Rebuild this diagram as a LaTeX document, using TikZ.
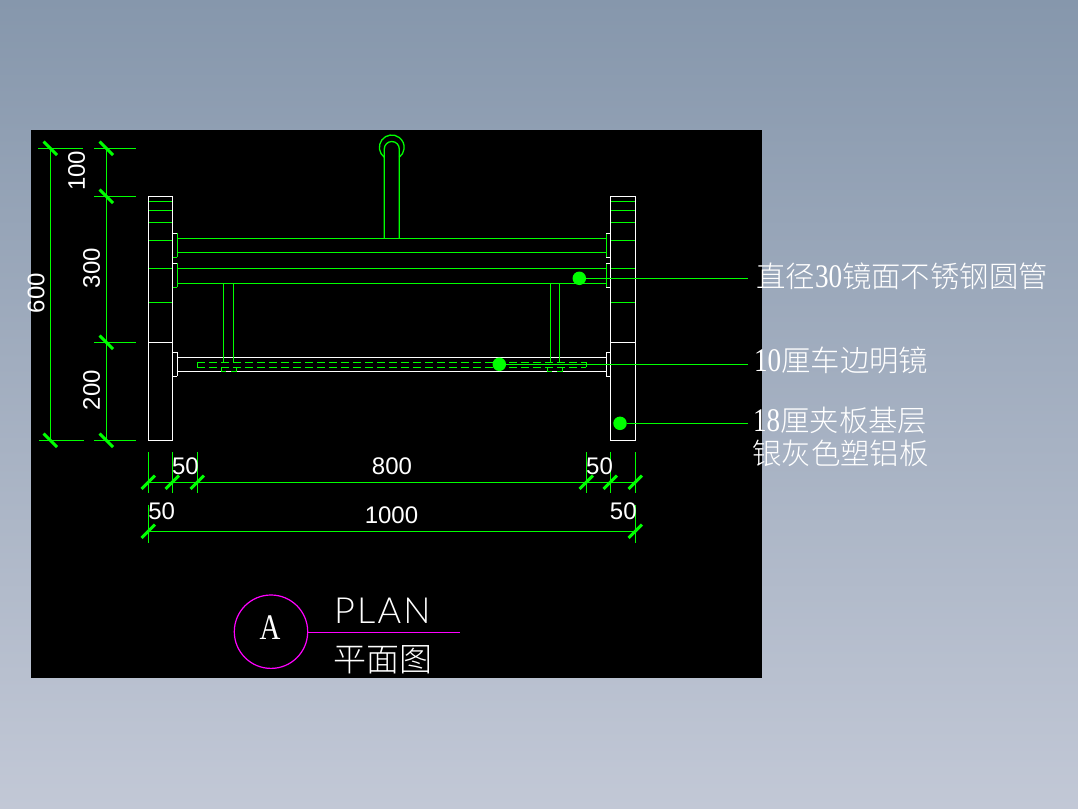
\documentclass[tikz,border=0pt]{standalone}
\usepackage{fontspec}
\setmainfont{Liberation Sans}
\newfontfamily\cjk{Noto Sans CJK SC Light}
\newfontfamily\dg[FakeStretch=0.82]{Liberation Serif}
\newfontfamily\ser{Liberation Serif}
\newfontfamily\dimf{Liberation Sans}
\newfontfamily\thinf[LetterSpace=6]{Lato Light}
\newcommand{\ldg}[1]{{\dg\fontsize{33}{33}\selectfont #1}}
\definecolor{gr}{RGB}{0,255,0}
\definecolor{mg}{RGB}{255,0,255}
\tikzset{
  gl/.style={draw=gr,line width=1.3pt},
  wl/.style={draw=white,line width=1.3pt},
  tickmark/.style={draw=gr,line width=3pt},
  dash2/.style={draw=gr,line width=1.2pt,dash pattern=on 7.5pt off 4.5pt},
  ml/.style={draw=mg,line width=1.2pt},
  dimtxt/.style={text=white,inner sep=0pt,font=\dimf\fontsize{24}{24}\selectfont},
  label/.style={text=white,inner sep=0pt,anchor=base west,font=\cjk\fontsize{29.4}{29.4}\selectfont},
  leaderdot/.style={circle,fill=gr,inner sep=0pt,minimum size=13.5pt}
}
\begin{document}
\begin{tikzpicture}[x=1pt,y=-1pt]
\path[use as bounding box] (0,0) rectangle (1078,808);
\shade[top color={rgb,255:red,134;green,151;blue,172},bottom color={rgb,255:red,194;green,200;blue,214}] (0,0) rectangle (1078,808);
\fill[black] (31,130) rectangle (762,678);

% panels
\foreach \a/\b in {148.3/172.7,610.3/635.3}{
  \draw[wl] (\a,196.3) rectangle (\b,440.3);
  \foreach \y in {201.3,210.3,222.3,240.3,268.3,302.3} \draw[gl] (\a+.5,\y) -- (\b-.5,\y);
  \draw[wl] (\a,342.3) -- (\b,342.3);
}
% tubes
\foreach \y in {238.3,252.3,268.3,283.3} \draw[gl] (177.3,\y) -- (606.3,\y);
\foreach \y in {357.3,371.3} \draw[wl] (177.3,\y) -- (606.3,\y);
% brackets
\foreach \t/\b/\c in {233.3/257.3/gr,263.3/287.3/gr,352.3/376.3/white}{
  \draw[draw=\c,line width=1.3pt] (177.3,\t) -- (177.3,\b);
  \draw[draw=\c,line width=1.3pt] (606.3,\t) -- (606.3,\b);
  \draw[wl] (172.7,\t) -- (177.3,\t);
  \draw[wl] (606.3,\t) -- (610.3,\t);
  \draw[draw=\c,line width=1.3pt] (172.7,\b) -- (177.3,\b);
  \draw[wl] (606.3,\b) -- (610.3,\b);
}
% mirror
\draw[gl] (197.3,367.3) -- (197.3,362.3);
\draw[gl] (586.3,367.3) -- (586.3,362.3);
\draw[dash2] (197.3,362.3) -- (586.3,362.3);
\draw[dash2] (197.3,367.3) -- (586.3,367.3);
% supports
\foreach \a/\b in {223.3/233.3,550.3/559.3}{
  \draw[gl] (\a,283.3) -- (\a,362.3);
  \draw[gl] (\b,283.3) -- (\b,362.3);
}
\foreach \a/\b in {221.3/236.3,547.3/562.3}{
  \draw[gl] (\a,367.3) -- (\a,371.3) -- (\a+5,371.3);
  \draw[gl] (\b,367.3) -- (\b,371.3) -- (\b-5,371.3);
}
% top loop
\draw[gl] (384.3,238.3) -- (384.3,149) arc[start angle=180,end angle=360,radius=7.5] -- (399.3,238.3);
\draw[gl] (384.3,157.3) arc[start angle=127,end angle=413,radius=12.4];

% vertical dimensions
\draw[gl] (50.3,148.3) -- (50.3,440.3);
\draw[gl] (106.3,148.3) -- (106.3,440.3);
\draw[gl] (38,148.3) -- (83,148.3);
\draw[gl] (39,440.3) -- (84,440.3);
\foreach \y in {148.3,196.3,342.3,440.3} \draw[gl] (94,\y) -- (136,\y);
\foreach \x/\y in {50.3/148.3,50.3/440.3,106.3/148.3,106.3/196.3,106.3/342.3,106.3/440.3}
  \draw[tickmark] (\x-6.7,\y-6.7) -- (\x+6.7,\y+6.7);
% horizontal dimensions
\draw[gl] (148.3,482.3) -- (635.3,482.3);
\draw[gl] (148.3,531.3) -- (635.3,531.3);
\foreach \x in {148.3,172.3,197.3,586.3,610.3,635.3}{
  \draw[gl] (\x,452) -- (\x,493.3);
  \draw[tickmark] (\x-6.7,489) -- (\x+6.7,475.6);
}
\draw[gl] (148.3,505) -- (148.3,542.7);
\draw[gl] (635.3,505) -- (635.3,542.7);
\foreach \x in {148.3,635.3} \draw[tickmark] (\x-6.7,538) -- (\x+6.7,524.6);

% dimension texts
\node[dimtxt,rotate=90] (d100) at (76.7,170.8) {100};
\node[dimtxt,rotate=90] (d300) at (91.7,268) {300};
\node[dimtxt,rotate=90] (d200) at (91.7,390) {200};
\node[dimtxt,rotate=90] (d600) at (36,293) {600};
\node[dimtxt] (h50a) at (185.5,466.7) {50};
\node[dimtxt] (h800) at (392,466) {800};
\node[dimtxt] (h50b) at (599.5,466.7) {50};
\node[dimtxt] (h50c) at (161.7,511.7) {50};
\node[dimtxt] (h1000) at (391.5,515) {1000};
\node[dimtxt] (h50d) at (623.3,511.7) {50};

% leaders
\node[leaderdot] (dot1) at (579.3,278.3) {};
\node[leaderdot] (dot2) at (499.3,364.3) {};
\node[leaderdot] (dot3) at (620,423.3) {};
\coordinate (e1) at (748,278.3);
\coordinate (e2) at (748,364.3);
\coordinate (e3) at (748,423.3);
\draw[gl] (dot1) -- (e1);
\draw[gl] (dot2) -- (e2);
\draw[gl] (dot3) -- (e3);
\node[label] (t1) at (756,287) {直径\ldg{30}镜面不锈钢圆管};
\node[label] (t2) at (754,371) {\ldg{10}厘车边明镜};
\node[label] (t3) at (753,431) {\ldg{18}厘夹板基层};
\node[label] (t4) at (752,464) {银灰色塑铝板};

% title
\node[circle,ml,minimum size=73.4pt,inner sep=0pt] (circ) at (271,631.7) {};
\coordinate (tend) at (460,632.3);
\draw[ml] (circ.east |- tend) -- (tend);
\node[text=white,inner sep=0pt,xscale=.8,font=\ser\fontsize{36}{36}\selectfont] (lettera) at (270,628) {A};
\node[text=white,inner sep=0pt,anchor=base west,font=\thinf\fontsize{36}{36}\selectfont] (plan) at (334,623.3) {PLAN};
\node[text=white,inner sep=0pt,anchor=base west,font=\cjk\fontsize{33}{33}\selectfont] (pm) at (333,671) {平面图};
\end{tikzpicture}
\end{document}
